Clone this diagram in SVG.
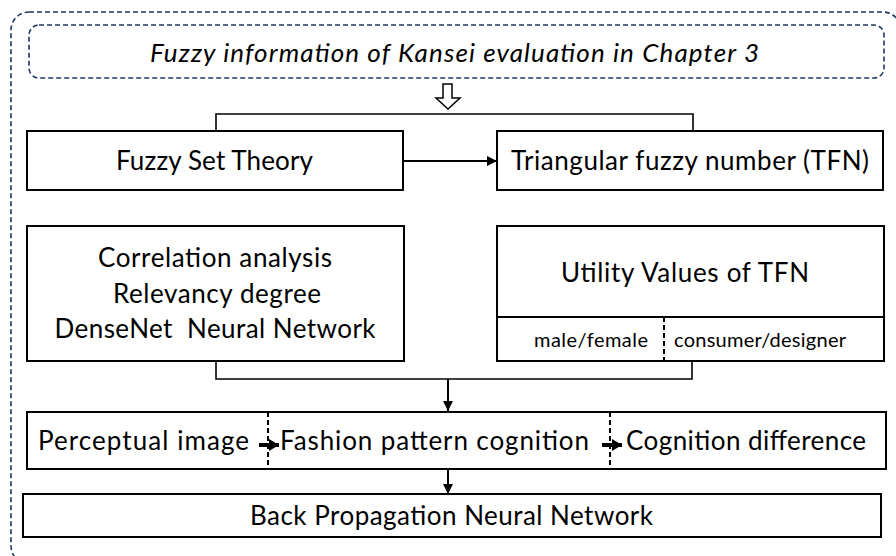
<svg xmlns="http://www.w3.org/2000/svg" width="896" height="556" viewBox="0 0 896 556">
<defs>
<style>
.frame{fill:none;stroke:#1F3864;stroke-width:1.6;stroke-dasharray:5 3}
.box{fill:#fff;stroke:#000;stroke-width:2}
.div{stroke:#000;stroke-width:2;stroke-dasharray:5 3}
.con{fill:none;stroke:#000;stroke-width:1.6}
.arr{fill:none;stroke:#000;stroke-width:2}
.sarr{fill:none;stroke:#000;stroke-width:4}
text{font-family:Lato,"Liberation Sans",sans-serif;fill:#000;text-anchor:middle}
.t{font-size:26px}
.s{font-size:20px}
.i{font-size:26px;font-style:italic}
</style>
<marker id="ah" viewBox="0 0 10 10" refX="10" refY="5" markerWidth="10" markerHeight="10" markerUnits="userSpaceOnUse" orient="auto">
<path d="M0,0 L10,5 L0,10 Z" fill="#000"/>
</marker>
<marker id="sh" viewBox="0 0 10 12" refX="10" refY="6" markerWidth="10" markerHeight="12" markerUnits="userSpaceOnUse" orient="auto">
<path d="M0,0 L10,6 L0,12 Z" fill="#000"/>
</marker>
</defs>
<rect class="frame" x="11" y="12" width="890" height="552" rx="18"/>
<g id="source">
<rect class="frame" x="29" y="25" width="855" height="53" rx="10"/>
<text class="i" x="454.5" y="62" textLength="609">Fuzzy information of Kansei evaluation in Chapter 3</text>
</g>
<g id="fst">
<rect class="box" x="27" y="131" width="376" height="59"/>
<text class="t" x="214.5" y="170" textLength="197">Fuzzy Set Theory</text>
</g>
<g id="tfn">
<rect class="box" x="497" y="131" width="386" height="59"/>
<text class="t" x="690" y="170" textLength="358">Triangular fuzzy number (TFN)</text>
</g>
<g id="corr">
<rect class="box" x="27" y="226" width="377" height="135"/>
<text class="t" x="215" y="267" textLength="234">Correlation analysis</text>
<text class="t" x="217" y="303" textLength="208">Relevancy degree</text>
<text class="t" x="215" y="338" textLength="321" xml:space="preserve">DenseNet  Neural Network</text>
</g>
<g id="utility">
<rect class="box" x="497" y="226" width="387" height="135"/>
<line x1="497" y1="317" x2="884" y2="317" stroke="#000" stroke-width="2"/>
<line class="div" x1="664" y1="317" x2="664" y2="361"/>
<text class="t" x="685" y="282" textLength="248">Utility Values of TFN</text>
<text class="s" x="591" y="347" textLength="114">male/female</text>
<text class="s" x="760" y="347" textLength="172">consumer/designer</text>
</g>
<g id="cognition">
<rect class="box" x="27" y="412" width="859" height="57"/>
<line class="div" x1="268" y1="412" x2="268" y2="469"/>
<line class="div" x1="610" y1="412" x2="610" y2="469"/>
<text class="t" x="143.5" y="450" textLength="211">Perceptual image</text>
<text class="t" x="434.5" y="450" textLength="309">Fashion pattern cognition</text>
<text class="t" x="746" y="450" textLength="240">Cognition difference</text>
</g>
<g id="bpnn">
<rect class="box" x="23" y="494" width="858" height="43"/>
<text class="t" x="451.5" y="525" textLength="403">Back Propagation Neural Network</text>
</g>
<g id="connectors">
<polygon points="443,84 452,84 452,98 460,98 448,109 436,98 443,98" fill="#fff" stroke="#000" stroke-width="1.5"/>
<polyline class="con" points="216,131 216,114 693,114 693,131"/>
<line class="arr" x1="403" y1="161" x2="497" y2="161" marker-end="url(#ah)"/>
<polyline class="con" points="216,361 216,379 692,379 692,361"/>
<line class="arr" x1="448" y1="379" x2="448" y2="411" marker-end="url(#ah)"/>
<line class="arr" x1="448" y1="469" x2="448" y2="494" marker-end="url(#ah)"/>
<line class="sarr" x1="259" y1="445" x2="279" y2="445" marker-end="url(#sh)"/>
<line class="sarr" x1="602" y1="445" x2="622" y2="445" marker-end="url(#sh)"/>
</g>
</svg>
